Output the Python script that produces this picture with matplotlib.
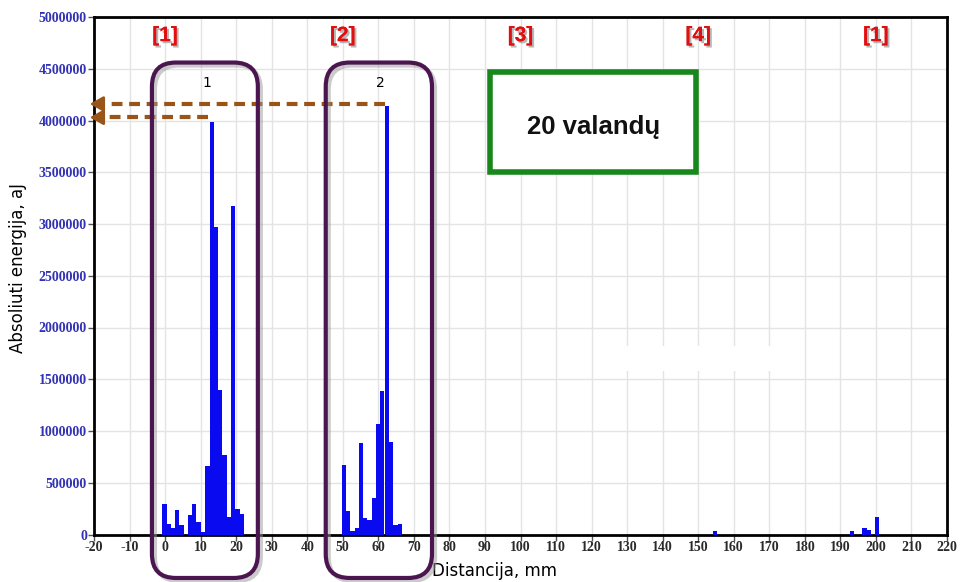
import matplotlib
matplotlib.use('Agg')
import matplotlib.pyplot as plt
from matplotlib.patches import FancyBboxPatch, Rectangle
from matplotlib.transforms import IdentityTransform
import matplotlib.patheffects as pe

# ---- data ----
dist_group1 = [-0.2, 1.0, 2.2, 3.4, 4.6, 7.0, 8.2, 9.4, 10.6, 11.9, 13.1, 14.3, 15.5, 16.7, 17.9, 19.2, 20.4, 21.6]
energy_group1 = [290000, 103000, 58000, 241000, 90000, 193000, 299000, 122000, 23000, 660000,
                 3990000, 2970000, 1395000, 767000, 165000, 3170000, 245000, 200000]
dist_group2 = [50.3, 51.5, 52.7, 53.9, 55.1, 56.3, 57.5, 58.7, 59.9, 61.1, 62.4, 63.6, 64.8, 66.0]
energy_group2 = [670000, 225000, 32000, 58000, 880000, 155000, 140000, 350000, 1064000, 1385000,
                 4136000, 890000, 92000, 100000]
dist_group3 = [154.8, 193.3, 196.8, 198.0, 200.3]
energy_group3 = [30000, 30000, 58000, 39000, 167000]

x_ticks = list(range(-20, 221, 10))
y_ticks = list(range(0, 5000001, 500000))
sensor_labels = ['[1]', '[2]', '[3]', '[4]', '[1]']
sensor_pos = [0, 50, 100, 150, 200]
frame_labels = ['1', '2']
box_text = '20 valandų'
xlabel = 'Distancija, mm'
ylabel = 'Absoliuti energija, aJ'

W, H = 960, 582
fig = plt.figure(figsize=(W / 100, H / 100), dpi=100)
ax = fig.add_axes([94 / W, 1 - 534.5 / H, (947 - 94) / W, (534.5 - 17) / H])
ax.set_xlim(-20, 220)
ax.set_ylim(0, 5000000)

bar_w = 1.2
bar_col = '#0a0af0'
for xs, ys in [(dist_group1, energy_group1), (dist_group2, energy_group2), (dist_group3, energy_group3)]:
    ax.bar(xs, ys, width=bar_w, color=bar_col, edgecolor='none', zorder=3)

ax.set_xticks(x_ticks)
ax.set_xticklabels([str(v) for v in x_ticks])
ax.set_yticks(y_ticks)
ax.set_yticklabels([str(v) for v in y_ticks])
ax.grid(True, color='#e4e4e4', lw=1, zorder=0)
ax.set_axisbelow(True)
for s in ax.spines.values():
    s.set_linewidth(2)
    s.set_color('black')
ax.tick_params(axis='both', length=4, width=1, color='#555555', pad=1)
for lab in ax.get_xticklabels():
    lab.set_fontfamily('Liberation Serif')
    lab.set_fontweight('bold')
    lab.set_fontsize(10)
    lab.set_color('#2a2a2a')
for lab in ax.get_yticklabels():
    lab.set_fontfamily('Liberation Serif')
    lab.set_fontweight('bold')
    lab.set_fontsize(10)
    lab.set_color('#3232b4')

fig.text(18 / W, 1 - 268 / H, ylabel, rotation=90, ha='center', va='center',
         fontsize=12, family='DejaVu Sans', color='black')
fig.text(495 / W, 1 - 571 / H, xlabel, ha='center', va='center',
         fontsize=12, family='DejaVu Sans', color='black')

# white patch artifact
ax.add_patch(Rectangle((128, 1580000), 47, 240000, facecolor='white', edgecolor='none', zorder=1))

# sensor labels
for p, t in zip(sensor_pos, sensor_labels):
    ax.text(p, 4820000, t, ha='center', va='center', fontsize=15, fontweight='bold',
            family=['Liberation Sans Narrow', 'Liberation Sans'], color='#e01010', zorder=6,
            path_effects=[pe.withSimplePatchShadow(offset=(1.5, -1.5), shadow_rgbFace='#888888', alpha=0.6),
                          pe.Normal()])

fig.canvas.draw()
T = ax.transData


def disp(x, y):
    return T.transform((x, y))


# rounded frames (defined in data units, drawn in pixels)
frames = [(-3.7, 26.1), (45.2, 75.1)]
f_top, f_bot = 4560000, -420000
for (xa, xb), lab in zip(frames, frame_labels):
    (px0, py0) = disp(xa, f_bot)
    (px1, py1) = disp(xb, f_top)
    for off, col, a in [((3, -3), '#999999', 0.5), ((0, 0), '#4b1650', 1.0)]:
        p = FancyBboxPatch((px0 + 10 + off[0], py0 + 10 + off[1]), px1 - px0 - 20, py1 - py0 - 20,
                           boxstyle='round,pad=10,rounding_size=24', transform=IdentityTransform(),
                           facecolor='none', edgecolor=col, lw=3, alpha=a, zorder=7)
        fig.add_artist(p)
    ax.text((xa + xb) / 2 + 0.5, 4360000, lab, ha='center', va='center', fontsize=10,
            family='DejaVu Sans', zorder=8)

# green box
gx0, gy0 = disp(91.5, 3500000)
gx1, gy1 = disp(149.5, 4470000)
fig.add_artist(Rectangle((gx0, gy0), gx1 - gx0, gy1 - gy0, transform=IdentityTransform(),
                         facecolor='white', edgecolor='#18881c', lw=4, zorder=7))
tx, ty = disp(120.5, 3940000)
fig.text(tx / W, ty / H, box_text, ha='center', va='center', fontsize=18.5, fontweight='bold',
         family='Liberation Sans', color='#111111', zorder=8)

# brown dashed arrows
brown = '#9a5418'
arrows = [(62.0, 4160000), (12.0, 4030000)]
for xs, yv in arrows:
    ax.plot([xs, -19.0], [yv, yv], ls=(0, (2.6, 1.6)), color=brown, lw=3, clip_on=False, zorder=9,
            solid_capstyle='butt', dash_capstyle='butt')
    ax.annotate('', xy=(-21.2, yv), xytext=(-17.5, yv), annotation_clip=False,
                arrowprops=dict(arrowstyle='-|>,head_length=0.8,head_width=0.45', color=brown, lw=2,
                                shrinkA=0, shrinkB=0), zorder=9)

fig.savefig('out.png', dpi=100)
